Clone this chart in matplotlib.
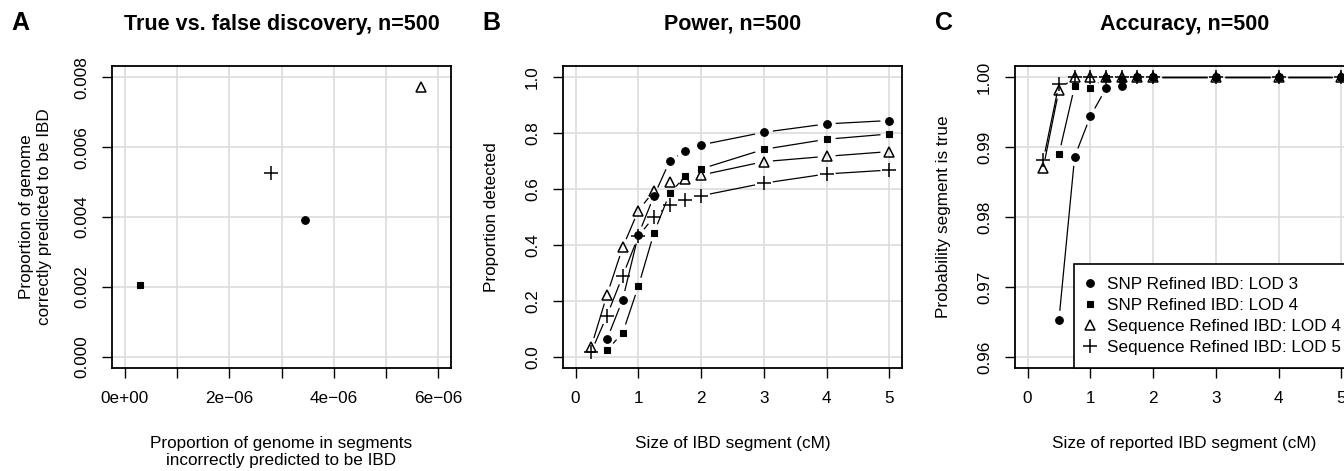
import matplotlib
matplotlib.use('Agg')
import matplotlib.pyplot as plt
from matplotlib.lines import Line2D
import numpy as np

plt.rcParams['font.family'] = ['Liberation Sans', 'DejaVu Sans']

nan = np.nan

# series order: SNP LOD 3, SNP LOD 4, Sequence LOD 4, Sequence LOD 5
labels = ['SNP Refined IBD: LOD 3', 'SNP Refined IBD: LOD 4',
          'Sequence Refined IBD: LOD 4', 'Sequence Refined IBD: LOD 5']

# panel A
false_disc = [3.45e-6, 0.30e-6, 5.66e-6, 2.80e-6]
true_disc = [0.00392, 0.00206, 0.00773, 0.00526]

# panels B and C
size_cm = [0.25, 0.5, 0.75, 1, 1.25, 1.5, 1.75, 2, 3, 4, 5]

power_snp3 = [nan, 0.063, 0.204, 0.436, 0.576, 0.700, 0.737, 0.758, 0.803, 0.833, 0.845]
power_snp4 = [nan, 0.024, 0.085, 0.252, 0.444, 0.585, 0.646, 0.672, 0.742, 0.778, 0.797]
power_seq4 = [0.036, 0.221, 0.391, 0.523, 0.593, 0.626, 0.636, 0.650, 0.698, 0.717, 0.734]
power_seq5 = [0.018, 0.147, 0.289, 0.431, 0.501, 0.544, 0.561, 0.576, 0.621, 0.654, 0.668]

acc_snp3 = [nan, 0.9653, 0.9886, 0.9944, 0.9984, 0.9988, 1.0, 1.0, 1.0, 1.0, 1.0]
acc_snp4 = [nan, 0.9890, 0.9987, 0.9985, 0.9999, 0.9998, 1.0, 1.0, 1.0, 1.0, 1.0]
acc_seq4 = [0.9870, 0.9982, 1.0, 1.0, 1.0, 1.0, 1.0, 1.0, 1.0, 1.0, 1.0]
acc_seq5 = [0.9881, 0.9990, 1.0, 1.0, 1.0, 1.0, 1.0, 1.0, 1.0, 1.0, 1.0]

# marker styles (R pch 19, 15, 2, 3)
styles = [dict(marker='o', ms=5.5, mfc='black', mec='black', mew=0.8),
          dict(marker='s', ms=5.0, mfc='black', mec='black', mew=0.8),
          dict(marker='^', ms=7.5, mfc='none', mec='black', mew=1.1),
          dict(marker='+', ms=10, mfc='black', mec='black', mew=1.1)]

FS = 12.3
W, H = 1344, 471
fig = plt.figure(figsize=(W / 100, H / 100), dpi=100)


def make_axes(left_px):
    return fig.add_axes([left_px / W, (H - 368) / H, 339 / W, 302 / H])


def style_axes(ax, title, xlabel, ylabel, letter, letter_x, ylab_x=-0.19):
    for s in ax.spines.values():
        s.set_linewidth(1.3)
    ax.grid(True, color='#dcdcdc', linewidth=1.2)
    ax.set_axisbelow(True)
    ax.tick_params(direction='out', length=7.5, width=1.0, pad=9, labelsize=FS)
    ax.tick_params(axis='y', labelrotation=90)
    for lab in ax.get_yticklabels():
        lab.set_va('center')
    ax.set_title(title, fontsize=15.5, fontweight='bold', pad=26)
    ax.set_xlabel(xlabel, fontsize=FS, va='top', linespacing=1.2)
    ax.set_ylabel(ylabel, fontsize=FS, linespacing=1.2)
    ax.xaxis.set_label_coords(0.5, -0.225)
    ax.yaxis.set_label_coords(ylab_x, 0.5)
    fig.text(letter_x / W, 1 - 30 / H, letter, fontsize=18, fontweight='bold',
             va='baseline', ha='left')


def draw_b(ax, x, y, st, gap=9):
    # R type="b": points joined by lines that stop short of each point
    x = np.asarray(x, float)
    y = np.asarray(y, float)
    ok = ~np.isnan(y)
    x, y = x[ok], y[ok]
    pts = ax.transData.transform(np.column_stack([x, y]))
    inv = ax.transData.inverted()
    for p0, p1 in zip(pts[:-1], pts[1:]):
        d = p1 - p0
        L = np.hypot(d[0], d[1])
        if L <= 2 * gap:
            continue
        u = d / L
        seg = inv.transform(np.array([p0 + u * gap, p1 - u * gap]))
        ax.plot(seg[:, 0], seg[:, 1], color='black', lw=0.9,
                solid_capstyle='butt', zorder=3)
    ax.plot(x, y, linestyle='none', zorder=4, **st)


# ---- A
axA = make_axes(112)
axA.set_xlim(-0.24e-6, 6.24e-6)
axA.set_ylim(-0.00032, 0.00832)
xt = np.arange(0, 7) * 1e-6
axA.set_xticks(xt)
axA.set_xticklabels(['0e+00', '', '2e\u221206', '', '4e\u221206', '', '6e\u221206'])
axA.set_yticks([0, 0.002, 0.004, 0.006, 0.008])
axA.set_yticklabels(['0.000', '0.002', '0.004', '0.006', '0.008'])
for i in range(4):
    axA.plot(false_disc[i], true_disc[i], linestyle='none', zorder=4, **styles[i])
style_axes(axA, 'True vs. false discovery, n=500',
           'Proportion of genome in segments\nincorrectly predicted to be IBD',
           'Proportion of genome\ncorrectly predicted to be IBD', 'A', 11,
           ylab_x=-0.178)

# ---- B
axB = make_axes(563)
axB.set_xlim(-0.2, 5.2)
axB.set_ylim(-0.04, 1.04)
axB.set_xticks([0, 1, 2, 3, 4, 5])
axB.set_yticks([0, 0.2, 0.4, 0.6, 0.8, 1.0])
axB.set_yticklabels(['0.0', '0.2', '0.4', '0.6', '0.8', '1.0'])
for ys, st in zip([power_snp3, power_snp4, power_seq4, power_seq5], styles):
    draw_b(axB, size_cm, ys, st)
style_axes(axB, 'Power, n=500', 'Size of IBD segment (cM)',
           'Proportion detected', 'B', 482)

# ---- C
axC = make_axes(1015)
axC.set_xlim(-0.2, 5.2)
axC.set_ylim(0.9584, 1.0016)
axC.set_xticks([0, 1, 2, 3, 4, 5])
axC.set_yticks([0.96, 0.97, 0.98, 0.99, 1.00])
axC.set_yticklabels(['0.96', '0.97', '0.98', '0.99', '1.00'])
for ys, st in zip([acc_snp3, acc_snp4, acc_seq4, acc_seq5], styles):
    draw_b(axC, size_cm, ys, st)
style_axes(axC, 'Accuracy, n=500', 'Size of reported IBD segment (cM)',
           'Probability segment is true', 'C', 935)

handles = [Line2D([], [], linestyle='none', **st) for st in styles]
leg = axC.legend(handles, labels, loc='lower left', bbox_to_anchor=(0.175, 0),
                 borderaxespad=0, fancybox=False, edgecolor='black', framealpha=1,
                 fontsize=FS, handlelength=0.38, handletextpad=0.8,
                 borderpad=0.75, labelspacing=0.36)
leg.get_frame().set_linewidth(1.2)
leg.set_zorder(5)

fig.savefig('out.png', dpi=100)
